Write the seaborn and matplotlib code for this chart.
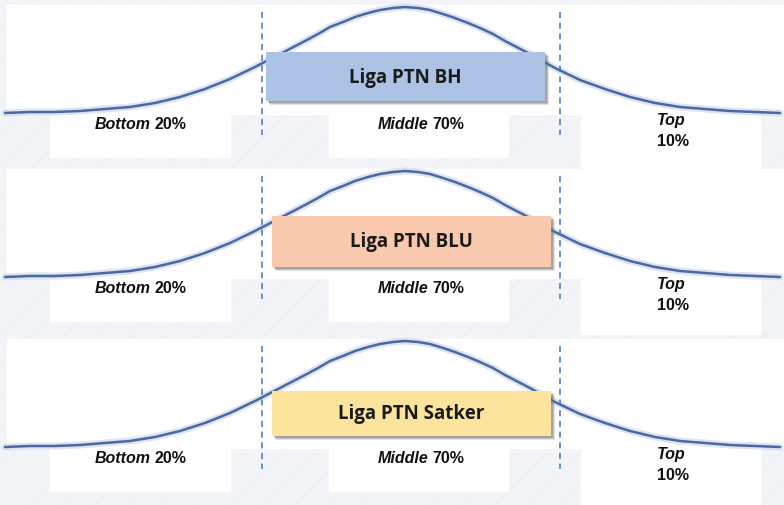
"""Distribusi peringkat Liga PTN: tiga kurva lonceng dengan pembagian Bottom/Middle/Top."""

import pandas as pd
import seaborn as sns
import matplotlib.pyplot as plt
from matplotlib.patches import Rectangle

# Data
LEAGUES = ["Liga PTN BH", "Liga PTN BLU", "Liga PTN Satker"]
BOX_COLORS = ["#adc3e6", "#f8c9ac", "#fde49c"]
TIER_NAMES = ["Bottom", "Middle", "Top"]
TIER_SHARES = ["20%", "70%", "10%"]
TIER_SPLITS = [262, 560]  # x of the dashed dividers

CURVE_X = [5, 30, 55, 80, 105, 130, 155, 180, 205, 230, 255, 280, 305, 318, 330, 343,
           355, 368, 380, 393, 405, 418, 430, 443, 455, 468, 480, 493, 505, 530, 555,
           580, 605, 630, 655, 680, 705, 730, 755, 780]
CURVE_H = [0, 1, 1, 2, 4, 6, 10, 16, 24, 34, 46, 59, 72, 79, 86, 91,
           96, 100, 103, 105, 106, 105, 103, 99, 95, 90, 85, 79, 72, 59, 45,
           33, 24, 16, 10, 6, 4, 2, 1, 0]

# Layout (pixels, y grows downward)
W, H = 784, 505
BASELINES = [113, 277, 447]
BOX_X = [(266, 545), (272, 551), (272, 551)]
BOX_Y = [(52, 101), (216, 267), (391, 436)]
LABEL_FONT = ["Liberation Sans", "DejaVu Sans"]
BOX_FONT = ["Open Sans", "DejaVu Sans"]
BG = "#f3f4f7"

sns.set_theme(style="white")

fig = plt.figure(figsize=(W / 100, H / 100), dpi=100)
fig.patch.set_facecolor(BG)
ax = fig.add_axes([0, 0, 1, 1])

# faint diagonal streaks in the slide background
ax.add_patch(Rectangle((0, 0), W, H, facecolor=BG, edgecolor="#eef0f3",
                       hatch="/", linewidth=0, zorder=0))

rows = []
for i, base in enumerate(BASELINES):
    for x, h in zip(CURVE_X, CURVE_H):
        rows.append({"panel": LEAGUES[i], "x": x, "y": base - h})
df = pd.DataFrame(rows)

for i, base in enumerate(BASELINES):
    # white cards behind the curve and labels
    ax.add_patch(Rectangle((7, base - 108), W - 7, 109, color="white", zorder=1))
    ax.add_patch(Rectangle((50, base + 2), 180, 42, color="white", zorder=1))
    ax.add_patch(Rectangle((329, base + 2), 179, 42, color="white", zorder=1))
    ax.add_patch(Rectangle((581, base + 2), 179, 55, color="white", zorder=1))

# curve glow + curve
sns.lineplot(data=df, x="x", y="y", units="panel", estimator=None, sort=False,
             color="#cdd9ef", linewidth=5, alpha=0.7, ax=ax, zorder=2, legend=False)
sns.lineplot(data=df, x="x", y="y", units="panel", estimator=None, sort=False,
             color="#4d679f", linewidth=1.8, ax=ax, zorder=3, legend=False)
ax.set_xlim(0, W)
ax.set_ylim(H, 0)
ax.axis("off")

for i, base in enumerate(BASELINES):
    ax.vlines(TIER_SPLITS, base - 101, base + 22, colors="#4472c4",
              linestyles=(0, (4, 3)), linewidth=1.1, zorder=4)

    x0, x1 = BOX_X[i]
    y0, y1 = BOX_Y[i]
    for off, a in [(4, 0.18), (3, 0.3), (2, 0.35)]:
        ax.add_patch(Rectangle((x0 + off, y0 + off), x1 - x0, y1 - y0,
                               color="#6e6e6e", alpha=a, linewidth=0, zorder=5))
    ax.add_patch(Rectangle((x0, y0), x1 - x0, y1 - y0, facecolor=BOX_COLORS[i],
                           edgecolor="none", zorder=6))
    ax.text((x0 + x1) / 2, (y0 + y1) / 2 + 1, LEAGUES[i], ha="center", va="center",
            fontsize=13.5, fontweight="bold", family=BOX_FONT, color="#1a1a1a",
            zorder=7)

    # tier labels
    ty = base + 16
    for split, name, share in [(151, TIER_NAMES[0], TIER_SHARES[0]),
                               (428, TIER_NAMES[1], TIER_SHARES[1])]:
        ax.text(split, ty, name, ha="right", va="baseline", fontsize=11.5,
                fontweight="bold", style="italic", family=LABEL_FONT, color="#111111",
                zorder=7)
        ax.text(split + 4, ty, share, ha="left", va="baseline", fontsize=11.5,
                fontweight="bold", family=LABEL_FONT, color="#111111", zorder=7)
    ax.text(657, base + 12.5, TIER_NAMES[2], ha="left", va="baseline", fontsize=11.5,
            fontweight="bold", style="italic", family=LABEL_FONT, color="#111111",
            zorder=7)
    ax.text(657, base + 33, TIER_SHARES[2], ha="left", va="baseline", fontsize=11.5,
            fontweight="bold", family=LABEL_FONT, color="#111111", zorder=7)

fig.savefig("out.png", dpi=100, facecolor=fig.get_facecolor())
